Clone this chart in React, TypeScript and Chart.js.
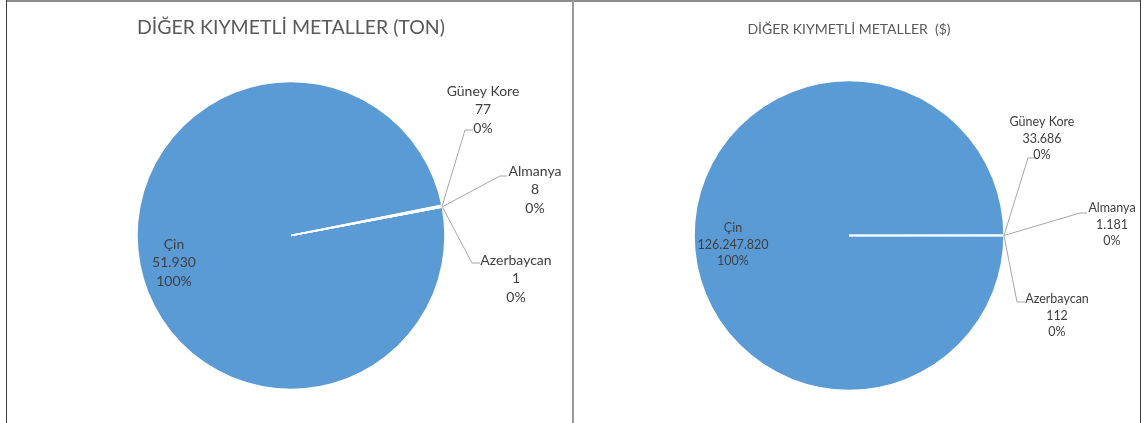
import React, { useEffect, useRef } from "react";
import { Chart, registerables } from "chart.js";

Chart.register(...registerables);

const countries = ["Çin", "Güney Kore", "Almanya", "Azerbaycan"];
const tonValues = [51930, 77, 8, 1];
const usdValues = [126247820, 33686, 1181, 112];
const tonTitle = "DİĞER KIYMETLİ METALLER (TON)";
const usdTitle = "DİĞER KIYMETLİ METALLER  ($)";

const PIE_COLOR = "#5B9BD5";
const TEXT_COLOR = "#404040";
const LEADER_COLOR = "#A6A6A6";

const fmt = (v: number) => String(v).replace(/\B(?=(\d{3})+(?!\d))/g, ".");

type LabelPos = {
  dx: number;
  dy: number;
  elbow?: [number, number];
  stub?: number;
};

const sliceLabelPlugin = {
  id: "sliceLabels",
  afterDatasetsDraw(chart: any, _args: any, opts: any) {
    const ctx = chart.ctx;
    const meta = chart.getDatasetMeta(0);
    const data = chart.data.datasets[0].data as number[];
    const labels = chart.data.labels as string[];
    const total = data.reduce((a, b) => a + b, 0);
    const positions: LabelPos[] = opts.positions;
    ctx.save();
    ctx.font = `${opts.fontSize}px ${opts.fontFamily}`;
    ctx.fillStyle = TEXT_COLOR;
    ctx.textAlign = "center";
    ctx.textBaseline = "middle";
    meta.data.forEach((arc: any, i: number) => {
      const p = positions[i];
      if (!p) return;
      const cx = arc.x;
      const cy = arc.y;
      if (p.elbow) {
        const mid = (arc.startAngle + arc.endAngle) / 2;
        const ex = cx + Math.cos(mid) * arc.outerRadius;
        const ey = cy + Math.sin(mid) * arc.outerRadius;
        ctx.strokeStyle = LEADER_COLOR;
        ctx.lineWidth = 1;
        ctx.beginPath();
        ctx.moveTo(ex, ey);
        ctx.lineTo(cx + p.elbow[0], cy + p.elbow[1]);
        ctx.lineTo(cx + p.elbow[0] + (p.stub || 0), cy + p.elbow[1]);
        ctx.stroke();
      }
      const pct = Math.round((data[i] / total) * 100) + "%";
      const lines = [labels[i], fmt(data[i]), pct];
      lines.forEach((t, k) => {
        ctx.fillText(t, cx + p.dx, cy + p.dy + k * opts.lineGap);
      });
    });
    ctx.restore();
  },
};

type PieProps = {
  values: number[];
  title: string;
  width: number;
  height: number;
  rotation: number;
  radius: number;
  titleSize: number;
  titleTop: number;
  titleBottom: number;
  pad: { left: number; right: number; bottom: number };
  labelSize: number;
  lineGap: number;
  positions: LabelPos[];
};

function PieCanvas(props: PieProps) {
  const ref = useRef<HTMLCanvasElement | null>(null);
  useEffect(() => {
    if (!ref.current) return;
    const chart = new Chart(ref.current, {
      type: "pie",
      data: {
        labels: countries,
        datasets: [
          {
            data: props.values,
            backgroundColor: PIE_COLOR,
            borderColor: "#FFFFFF",
            borderWidth: 1.5,
            radius: props.radius,
          } as any,
        ],
      },
      options: {
        responsive: false,
        animation: false,
        rotation: props.rotation,
        layout: { padding: { top: 0, left: props.pad.left, right: props.pad.right, bottom: props.pad.bottom } },
        plugins: {
          legend: { display: false },
          tooltip: { enabled: false },
          title: {
            display: true,
            text: props.title,
            color: "#595959",
            font: { family: "Lato", size: props.titleSize, weight: "normal" as any },
            padding: { top: props.titleTop, bottom: props.titleBottom },
          },
          sliceLabels: {
            positions: props.positions,
            fontSize: props.labelSize,
            fontFamily: "Lato",
            lineGap: props.lineGap,
          },
        } as any,
      },
      plugins: [sliceLabelPlugin],
    });
    return () => chart.destroy();
  }, []);
  return <canvas ref={ref} width={props.width} height={props.height} style={{ display: "block", width: props.width, height: props.height }} />;
}

export default function App() {
  return (
    <div style={{ position: "absolute", left: 0, top: 0, width: 1145, height: 423, background: "#fff", overflow: "hidden" }}>
      <div style={{ position: "absolute", left: 6, top: 0, width: 1135, height: 2, background: "#8C8C8C" }} />
      <div style={{ position: "absolute", left: 6, top: 0, width: 1, height: 423, background: "#3A3A3A" }} />
      <div style={{ position: "absolute", left: 572, top: 0, width: 2, height: 423, background: "#9A9A9A" }} />
      <div style={{ position: "absolute", left: 1140, top: 0, width: 1, height: 423, background: "#3A3A3A" }} />
      <div style={{ position: "absolute", left: 7, top: 2 }}>
        <PieCanvas
          values={tonValues}
          title={tonTitle}
          width={565}
          height={421}
          rotation={79.3}
          radius={154}
          titleSize={19.5}
          titleTop={14.1}
          titleBottom={20.3}
          pad={{ left: 3, right: 0, bottom: 11.8 }}
          labelSize={14}
          lineGap={18.5}
          positions={[
            { dx: -117, dy: 8.5 },
            { dx: 192, dy: -144.5, elbow: [174, -105.5], stub: 8 },
            { dx: 244, dy: -64.5, elbow: [209, -59.5], stub: 7 },
            { dx: 225, dy: 24.5, elbow: [181, 27.5], stub: 8 },
          ]}
        />
      </div>
      <div style={{ position: "absolute", left: 574, top: 2 }}>
        <PieCanvas
          values={usdValues}
          title={usdTitle}
          width={566}
          height={421}
          rotation={90}
          radius={155}
          titleSize={14}
          titleTop={18.6}
          titleBottom={19.4}
          pad={{ left: 0, right: 16, bottom: 8.8 }}
          labelSize={12.5}
          lineGap={16.5}
          positions={[
            { dx: -116, dy: -7.5 },
            { dx: 193, dy: -113.5, elbow: [179, -77.5], stub: 9 },
            { dx: 263, dy: -27.5, elbow: [231, -22.5], stub: 7 },
            { dx: 208, dy: 63.5, elbow: [168, 66.5], stub: 8 },
          ]}
        />
      </div>
    </div>
  );
}
